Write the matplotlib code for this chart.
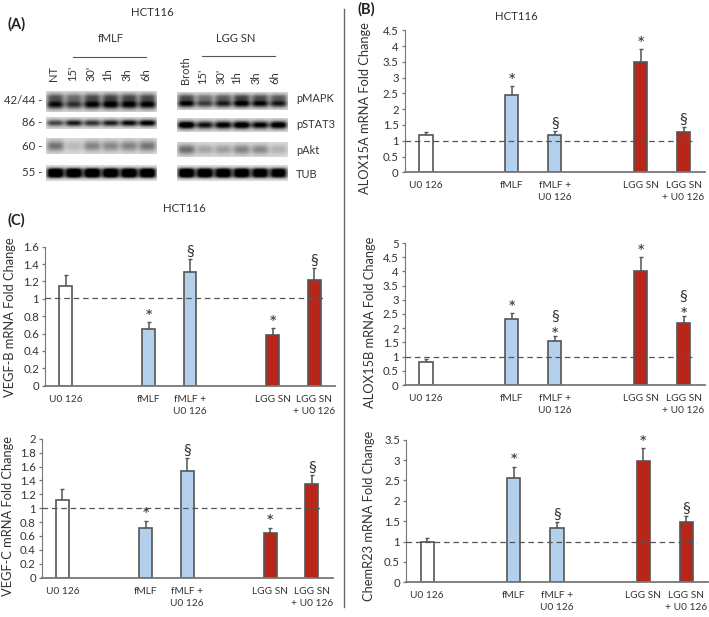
import numpy as np
import matplotlib
matplotlib.use('Agg')
import matplotlib.pyplot as plt

plt.rcParams['font.family'] = ['Lato', 'DejaVu Sans']

W, H = 709, 617
TEXT = '#333333'
BLUE = '#b3d1ec'
RED = '#b8261a'
EDGE = '#555555'

# bar slots: two of the seven stay empty
slots = [0, 2, 3, 5, 6]
tick_labels = ['U0 126', 'fMLF', 'fMLF +\nU0 126', 'LGG SN', 'LGG SN\n+ U0 126']
colors = ['white', BLUE, BLUE, RED, RED]

vegfb_vals = [1.15, 0.65, 1.31, 0.58, 1.22]
vegfb_errs = [0.12, 0.08, 0.15, 0.08, 0.14]
vegfb_marks = ['', '*', '§', '*', '§']
vegfb_ticks = [0, 0.2, 0.4, 0.6, 0.8, 1, 1.2, 1.4, 1.6]

vegfc_vals = [1.12, 0.72, 1.54, 0.64, 1.35]
vegfc_errs = [0.15, 0.10, 0.18, 0.08, 0.13]
vegfc_marks = ['', '*', '§', '*', '§']
vegfc_ticks = [0, 0.2, 0.4, 0.6, 0.8, 1, 1.2, 1.4, 1.6, 1.8, 2]

alox15a_vals = [1.18, 2.45, 1.17, 3.50, 1.28]
alox15a_errs = [0.11, 0.27, 0.15, 0.40, 0.15]
alox15a_marks = ['', '*', '§', '*', '§']
alox15a_ticks = [0, 0.5, 1, 1.5, 2, 2.5, 3, 3.5, 4, 4.5]

alox15b_vals = [0.81, 2.31, 1.54, 4.00, 2.20]
alox15b_errs = [0.12, 0.21, 0.18, 0.50, 0.22]
alox15b_marks = ['', '*', '§*', '*', '§*']
alox15b_ticks = [0, 0.5, 1, 1.5, 2, 2.5, 3, 3.5, 4, 4.5, 5]

chemr23_vals = [1.00, 2.56, 1.33, 2.98, 1.48]
chemr23_errs = [0.08, 0.28, 0.15, 0.32, 0.15]
chemr23_marks = ['', '*', '§', '*', '§']
chemr23_ticks = [0, 0.5, 1, 1.5, 2, 2.5, 3, 3.5]

# blot band strength per lane, 0 is blank and 1 is black
fmlf_lanes = ['NT', "15'", "30'", '1h', '3h', '6h']
lgg_lanes = ['Broth', "15'", "30'", '1h', '3h', '6h']
blot_names = ['pMAPK', 'pSTAT3', 'pAkt', 'TUB']
mw_labels = ['42/44 -', '86 -', '60 -', '55 -']

fmlf_bands = [
    [0.85, 0.70, 0.90, 0.95, 0.92, 0.90],
    [0.55, 0.72, 0.62, 0.70, 0.78, 0.85],
    [0.38, 0.12, 0.32, 0.30, 0.32, 0.38],
    [0.98, 0.98, 0.98, 0.98, 0.98, 0.98],
]
lgg_bands = [
    [0.90, 0.65, 0.78, 0.95, 0.88, 0.80],
    [0.98, 0.75, 0.85, 0.95, 0.82, 0.92],
    [0.40, 0.20, 0.22, 0.32, 0.30, 0.15],
    [0.98, 0.95, 0.95, 0.95, 0.92, 0.90],
]


def draw_blot(ax, bands, left, right, top, bottom, kind):
    # grey strip with one soft band per lane, sized in image pixels
    rows, cols = 40, 200
    yy = np.linspace(0, 1, rows)[:, None]
    xx = np.linspace(0, len(bands), cols)[None, :]
    img = np.full((rows, cols), 0.14)
    for i, v in enumerate(bands):
        across = np.exp(-((xx - i - 0.5) / 0.47) ** 4)
        if kind == 'double':
            down = 0.5 * np.exp(-((yy - 0.28) / 0.18) ** 2) + 0.9 * np.exp(-((yy - 0.64) / 0.22) ** 2)
        elif kind == 'wide':
            down = np.exp(-((yy - 0.5) / 0.34) ** 2)
        elif kind == 'tub':
            down = np.exp(-((yy - 0.5) / 0.32) ** 4)
        else:
            down = np.exp(-((yy - 0.5) / 0.28) ** 2)
        img = img + 1.1 * v * across * down
    ax.imshow(1 - np.clip(img, 0, 1), cmap='gray', vmin=0, vmax=1, extent=[left, right, bottom, top],
              aspect='auto', interpolation='bilinear', zorder=1)


def add_mark(ax, x, y, s, offset):
    size = 14 if s == '*' else 11.5
    ax.annotate(s, (x, y), xytext=(0, offset), textcoords='offset points', ha='center',
                va='baseline', fontsize=size, color=TEXT)


def bar_panel(fig, box, vals, errs, marks, ticks, ymax, ylabel, label_x, label_y, dash_y=1.0):
    left, right, y_top, y_zero = box
    ax = fig.add_axes([left / W, 1 - y_zero / H, (right - left) / W, (y_zero - y_top) / H])
    ax.bar(slots, vals, width=0.31, color=colors, edgecolor=EDGE, linewidth=1.2, zorder=2)
    ax.errorbar(slots, vals, yerr=[[0] * 5, errs], fmt='none', ecolor=EDGE, elinewidth=1.1,
                capsize=1.4, capthick=1.0, zorder=1)
    ax.axhline(dash_y, xmax=0.965, color='#555555', lw=0.9, dashes=(4.5, 3), zorder=3)
    ax.set_xlim(-0.5, 6.5)
    ax.set_ylim(0, ymax)
    ax.set_yticks(ticks)
    ax.set_yticklabels([f'{t:g}' for t in ticks], fontsize=8.2, color=TEXT)
    ax.set_xticks(slots)
    ax.set_xticklabels(tick_labels, fontsize=7.3, color=TEXT, linespacing=1.45)
    ax.tick_params(axis='x', length=0, pad=6.5)
    ax.tick_params(axis='y', length=2.2, width=0.9, color='#777777', pad=2)
    for side in ['top', 'right']:
        ax.spines[side].set_visible(False)
    ax.spines['left'].set_color('#777777')
    ax.spines['bottom'].set_color('#777777')
    ax.spines['bottom'].set_linewidth(1.3)
    for s, v, e, m in zip(slots, vals, errs, marks):
        if m == '§*':
            add_mark(ax, s, v + e, '*', -3.4)
            add_mark(ax, s, v + e, '§', 11)
        elif m == '*':
            add_mark(ax, s, v + e, '*', -0.5)
        elif m == '§':
            add_mark(ax, s, v + e, '§', 2.2)
    fig.text(label_x / W, 1 - label_y / H, ylabel, rotation=90, ha='center', va='center',
             fontsize=9.3, color=TEXT)


fig = plt.figure(figsize=(W / 100, H / 100), dpi=100)

# overlay in image pixels for the blot, panel letters and dividers
over = fig.add_axes([0, 0, 1, 1], zorder=5)
over.set_xlim(0, W)
over.set_ylim(H, 0)
over.axis('off')

over.plot([343.5, 343.5], [9, 607], color='#666666', lw=1)

for x, y, s in [(7, 24, '(A)'), (7, 220, '(C)'), (357, 9, '(B)')]:
    over.text(x, y, s, fontsize=10.5, fontweight='bold', color='#222222', va='center')
for x, y in [(152, 12), (184, 208), (516, 17)]:
    over.text(x, y, 'HCT116', fontsize=8.2, color=TEXT, ha='center', va='center')

over.text(111, 38, 'fMLF', fontsize=7.9, color=TEXT, ha='center', va='center')
over.text(236, 39, 'LGG SN', fontsize=8, color=TEXT, ha='center', va='center')
over.plot([73, 146], [57, 57], color='#555555', lw=0.8)
over.plot([202, 275], [56, 56], color='#555555', lw=0.8)

fmlf_top = [91, 117, 138, 165]
fmlf_bot = [112, 129, 154, 181]
lgg_top = [92, 118, 142, 165]
lgg_bot = [110, 132, 157, 181]
kinds = ['double', 'thin', 'wide', 'tub']
for i in range(4):
    draw_blot(over, fmlf_bands[i], 46, 157, fmlf_top[i], fmlf_bot[i], kinds[i])
    draw_blot(over, lgg_bands[i], 177, 288, lgg_top[i], lgg_bot[i], kinds[i])
over.set_xlim(0, W)
over.set_ylim(H, 0)

fmlf_lane_x = [54, 73, 91, 108, 127, 146]
lgg_lane_x = [185, 203, 221, 237, 256, 275]
for x, s in zip(fmlf_lane_x, fmlf_lanes):
    over.text(x, 81, s, rotation=90, fontsize=8, color=TEXT, ha='center', va='bottom')
for x, s in zip(lgg_lane_x, lgg_lanes):
    over.text(x, 84, s, rotation=90, fontsize=8, color=TEXT, ha='center', va='bottom')

for s, y in zip(blot_names, [99, 125, 151, 175]):
    over.text(296, y, s, fontsize=7.9, color=TEXT, va='center')
for s, y in zip(mw_labels, [101, 123, 146, 173]):
    over.text(42, y, s, fontsize=8.2, color=TEXT, ha='right', va='center')

bar_panel(fig, (45, 335, 246.7, 385.7), vegfb_vals, vegfb_errs, vegfb_marks, vegfb_ticks, 1.6,
          'VEGF-B mRNA Fold Change', 10, 317, dash_y=1.015)
bar_panel(fig, (41.7, 332.7, 438.7, 577.7), vegfc_vals, vegfc_errs, vegfc_marks, vegfc_ticks, 2,
          'VEGF-C mRNA Fold Change', 8, 516)
bar_panel(fig, (404.5, 705, 30.3, 172.3), alox15a_vals, alox15a_errs, alox15a_marks, alox15a_ticks, 4.5,
          'ALOX15A mRNA Fold Change', 365, 108)
bar_panel(fig, (404.5, 705, 243, 385), alox15b_vals, alox15b_errs, alox15b_marks, alox15b_ticks, 5,
          'ALOX15B mRNA Fold Change', 370, 322)
bar_panel(fig, (405.7, 708, 439.7, 582.3), chemr23_vals, chemr23_errs, chemr23_marks, chemr23_ticks, 3.5,
          'ChemR23 mRNA Fold Change', 369, 516)

fig.savefig('out.png', dpi=100)
